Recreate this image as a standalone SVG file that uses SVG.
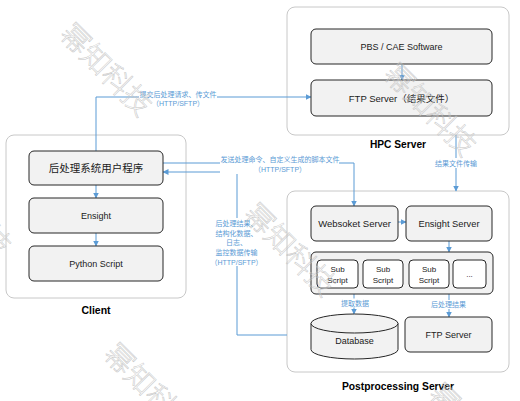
<svg xmlns="http://www.w3.org/2000/svg" width="520" height="401" viewBox="0 0 520 401">
<defs>
<marker id="arr" markerUnits="userSpaceOnUse" markerWidth="6" markerHeight="6" refX="5.5" refY="3" orient="auto">
<path d="M0,0 L6,3 L0,6 z" fill="#5B9BD5"/>
</marker>
<style>
.container{fill:#fff;stroke:#c8c8c8;stroke-width:1}
.node{fill:#f2f2f2;stroke:#262626;stroke-width:1}
.sub{fill:#fff;stroke:#262626;stroke-width:1}
.t{font-family:"Liberation Sans","Noto Sans CJK SC",sans-serif;fill:#1a1a1a;text-anchor:middle}
.title{font-family:"Liberation Sans","Noto Sans CJK SC",sans-serif;font-weight:bold;fill:#000;text-anchor:middle}
.conn{fill:none;stroke:#5B9BD5;stroke-width:1}
.lbl{font-family:"Liberation Sans","Noto Sans CJK SC",sans-serif;font-size:7px;fill:#5B9BD5;text-anchor:middle}
.bg{fill:#fff}
.wm{font-family:"Noto Sans CJK SC",sans-serif;font-weight:300;font-size:29px;fill:none;stroke:#c4c4c4;stroke-width:0.5;text-anchor:middle}
</style>
</defs>

<g id="client">
<rect class="container" x="6" y="135" width="180" height="163" rx="8"/>
<text class="title" x="96" y="313.5" font-size="10.5">Client</text>
</g>
<g id="hpc-server">
<rect class="container" x="287" y="7" width="222" height="128" rx="8"/>
<text class="title" x="398" y="147.5" font-size="10.2">HPC Server</text>
</g>
<g id="postprocessing-server">
<rect class="container" x="287" y="191" width="222" height="181" rx="8"/>
<text class="title" x="398" y="389.5" font-size="10.3">Postprocessing Server</text>
</g>

<g id="connectors">
<path class="conn" d="M96,151 V97 H311" marker-end="url(#arr)"/>
<path class="conn" d="M402,64 V80" marker-end="url(#arr)"/>
<path class="conn" d="M456,135 V191" marker-end="url(#arr)"/>
<path class="conn" d="M163,163 H354 V206" marker-end="url(#arr)"/>
<path class="conn" d="M287,335 H237 V172 H163" marker-end="url(#arr)"/>
<path class="conn" d="M96,185 V198" marker-end="url(#arr)"/>
<path class="conn" d="M96,233 V246" marker-end="url(#arr)"/>
<path class="conn" d="M398,222 H406" marker-end="url(#arr)"/>
<path class="conn" d="M449,241 V252" marker-end="url(#arr)"/>
<path class="conn" d="M354,294 V314" marker-end="url(#arr)"/>
<path class="conn" d="M449,294 V317" marker-end="url(#arr)"/>
<g id="label-submit">
<rect class="bg" x="139" y="89" width="78" height="19"/>
<text class="lbl" x="178" y="96.5">提交后处理请求、传文件</text>
<text class="lbl" x="178" y="106">（HTTP/SFTP）</text>
</g>
<g id="label-send">
<rect class="bg" x="220" y="154" width="119" height="20"/>
<text class="lbl" x="280" y="161.5">发送处理命令、自定义生成的脚本文件</text>
<text class="lbl" x="280" y="171.5">（HTTP/SFTP）</text>
</g>
<g id="label-result-transfer">
<rect class="bg" x="433" y="158" width="46" height="10"/>
<text class="lbl" x="456" y="165.5">结果文件传输</text>
</g>
<g id="label-return">
<rect class="bg" x="213" y="218" width="48" height="48"/>
<text class="lbl" x="236.5" y="225.5">后处理结果、</text>
<text class="lbl" x="236.5" y="235.5">结构化数据、</text>
<text class="lbl" x="236.5" y="245">日志、</text>
<text class="lbl" x="236.5" y="254.5">监控数据传输</text>
<text class="lbl" x="236.5" y="264.5">（HTTP/SFTP）</text>
</g>
<g id="label-fetch">
<rect class="bg" x="340" y="298.5" width="30" height="9"/>
<text class="lbl" x="355" y="305.5">提取数据</text>
</g>
<g id="label-post-result">
<rect class="bg" x="430" y="300" width="37" height="9"/>
<text class="lbl" x="448.5" y="307">后处理结果</text>
</g>
</g>

<g id="user-program">
<rect class="node" x="29" y="151" width="134" height="34" rx="5"/>
<text class="t" x="96" y="171.8" font-size="10.5">后处理系统用户程序</text>
</g>
<g id="ensight">
<rect class="node" x="29" y="198" width="134" height="35" rx="5"/>
<text class="t" x="96" y="218.8" font-size="9">Ensight</text>
</g>
<g id="python-script">
<rect class="node" x="29" y="246" width="134" height="35" rx="5"/>
<text class="t" x="96" y="266.8" font-size="9">Python Script</text>
</g>
<g id="pbs-cae">
<rect class="node" x="311" y="29" width="181" height="35" rx="5"/>
<text class="t" x="401.5" y="49.8" font-size="9">PBS / CAE Software</text>
</g>
<g id="ftp-result">
<rect class="node" x="311" y="80" width="181" height="36" rx="5"/>
<text class="t" x="401.5" y="101.5" font-size="9.5">FTP Server（结果文件）</text>
</g>
<g id="websoket-server">
<rect class="node" x="311" y="206" width="87" height="35" rx="5"/>
<text class="t" x="354.5" y="226.8" font-size="9.5">Websoket Server</text>
</g>
<g id="ensight-server">
<rect class="node" x="406" y="206" width="86" height="35" rx="5"/>
<text class="t" x="449" y="226.8" font-size="9.3">Ensight Server</text>
</g>
<g id="sub-scripts">
<rect class="node" x="311" y="252" width="182" height="42" rx="5"/>
<rect class="sub" x="317" y="260" width="41" height="28" rx="4"/>
<text class="t" x="337.5" y="271.5" font-size="8">Sub</text>
<text class="t" x="337.5" y="283" font-size="8">Script</text>
<rect class="sub" x="363" y="260" width="40" height="28" rx="4"/>
<text class="t" x="383" y="271.5" font-size="8">Sub</text>
<text class="t" x="383" y="283" font-size="8">Script</text>
<rect class="sub" x="409" y="260" width="40" height="28" rx="4"/>
<text class="t" x="429" y="271.5" font-size="8">Sub</text>
<text class="t" x="429" y="283" font-size="8">Script</text>
<rect class="sub" x="453" y="260" width="33" height="28" rx="4"/>
<text class="t" x="469.5" y="277" font-size="8">...</text>
</g>
<g id="database">
<path class="node" d="M311,323.5 A43.5,9.5 0 0 1 398,323.5 V349.5 A43.5,9.5 0 0 1 311,349.5 Z"/>
<path class="node" d="M311,323.5 A43.5,9.5 0 0 0 398,323.5" fill="none"/>
<text class="t" x="354.5" y="343.5" font-size="9">Database</text>
</g>
<g id="ftp-server">
<rect class="node" x="405" y="317" width="87" height="35" rx="5"/>
<text class="t" x="448.5" y="337.8" font-size="9">FTP Server</text>
</g>

<g id="watermarks">
<text class="wm" transform="translate(106,70) rotate(45)" y="10">幂知科技</text>
<text class="wm" transform="translate(430,110) rotate(45)" y="10">幂知科技</text>
<text class="wm" transform="translate(290,250) rotate(45)" y="10">幂知科技</text>
<text class="wm" transform="translate(150,390) rotate(45)" y="10">幂知科技</text>
<text class="wm" transform="translate(-35,210) rotate(45)" y="10">幂知科技</text>
<text class="wm" transform="translate(475,430) rotate(45)" y="10">幂知科技</text>
</g>
</svg>
